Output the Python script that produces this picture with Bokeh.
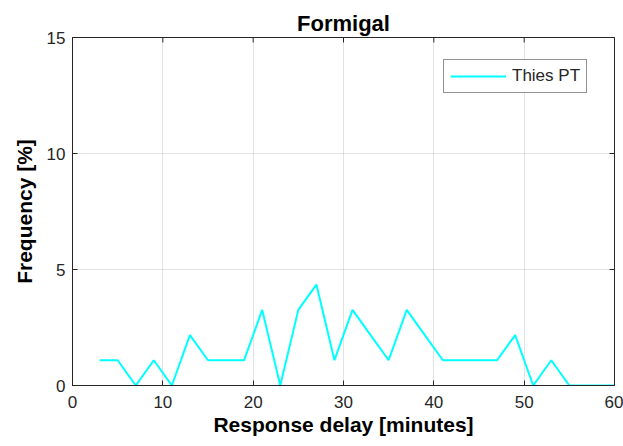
import math
from bokeh.plotting import figure
from bokeh.models import Range1d, Legend, LegendItem, FixedTicker
from bokeh.embed import file_html
from bokeh.resources import INLINE

title = "Formigal"
series_name = "Thies PT"
delay_minutes = [3, 5, 7, 9, 11, 13, 15, 17, 19, 21, 23, 25, 27, 29, 31, 33, 35, 37, 39, 41,
                 43, 45, 47, 49, 51, 53, 55, 57, 59, 61]
frequency_pct = [1.09, 1.09, 0.0, 1.09, 0.0, 2.17, 1.09, 1.09, 1.09, 3.26, 0.0, 3.26, 4.35, 1.09,
                 3.26, 2.17, 1.09, 3.26, 2.17, 1.09, 1.09, 1.09, 1.09, 2.17, 0.0, 1.09, 0.0, 0.0, 0.0, 0.0]
x_ticks = [0, 10, 20, 30, 40, 50, 60]
y_ticks = [0, 5, 10, 15]

FONT = "Liberation Sans"
DARK = "#262626"

p = figure(width=623, height=446, output_backend="svg", toolbar_location=None,
           x_range=Range1d(0, 60), y_range=Range1d(0, 15),
           min_border_left=72, min_border_right=9, min_border_top=37, min_border_bottom=61)
p.title.text = title
p.title.align = "center"
p.title.text_font = FONT
p.title.text_font_size = "22px"
p.title.text_font_style = "bold"
p.title.text_color = "#000000"
p.title.offset = 0
p.title.standoff = 4

p.background_fill_color = "white"
p.border_fill_color = "white"
p.outline_line_color = DARK
p.outline_line_width = 1

r = p.line(delay_minutes, frequency_pct, line_color="#00FFFF", line_width=2)

# inward ticks on the top and right edges of the box (clipped to the frame)
p.scatter(x_ticks, [y_ticks[-1]] * len(x_ticks), marker="dash", size=10,
          angle=math.pi / 2, line_color=DARK, line_width=1)
p.scatter([x_ticks[-1]] * len(y_ticks), y_ticks, marker="dash", size=10,
          angle=0, line_color=DARK, line_width=1)

for ax in (p.xaxis[0], p.yaxis[0]):
    ax.major_tick_in = 5
    ax.major_tick_out = 0
    ax.minor_tick_line_color = None
    ax.axis_line_color = DARK
    ax.major_tick_line_color = DARK
    ax.major_label_text_font = FONT
    ax.major_label_text_font_size = "17px"
    ax.major_label_text_color = DARK
    ax.axis_label_text_font = FONT
    ax.axis_label_text_font_size = "21px"
    ax.axis_label_text_font_style = "bold"
    ax.axis_label_text_color = "#000000"

p.xaxis.ticker = FixedTicker(ticks=x_ticks)
p.yaxis.ticker = FixedTicker(ticks=y_ticks)
p.xaxis.axis_label = "Response delay [minutes]"
p.yaxis.axis_label = "Frequency [%]"
p.xaxis.major_label_standoff = 10
p.yaxis.major_label_standoff = 7
p.xaxis.axis_label_standoff = 2
p.yaxis.axis_label_standoff = 8

p.xgrid.ticker = FixedTicker(ticks=x_ticks)
p.ygrid.ticker = FixedTicker(ticks=y_ticks)
p.grid.grid_line_color = "#000000"
p.grid.grid_line_alpha = 0.11
p.grid.grid_line_width = 1

legend = Legend(items=[LegendItem(label=series_name, renderers=[r])])
legend.location = (371, 292)
legend.margin = 0
legend.border_line_color = DARK
legend.border_line_width = 1.5
legend.label_text_font = FONT
legend.label_text_font_size = "17px"
legend.label_text_color = DARK
legend.glyph_width = 56
legend.padding = 6
legend.label_standoff = 6
legend.spacing = 0
p.add_layout(legend, "center")

open("out.html", "w").write(file_html(p, INLINE))
